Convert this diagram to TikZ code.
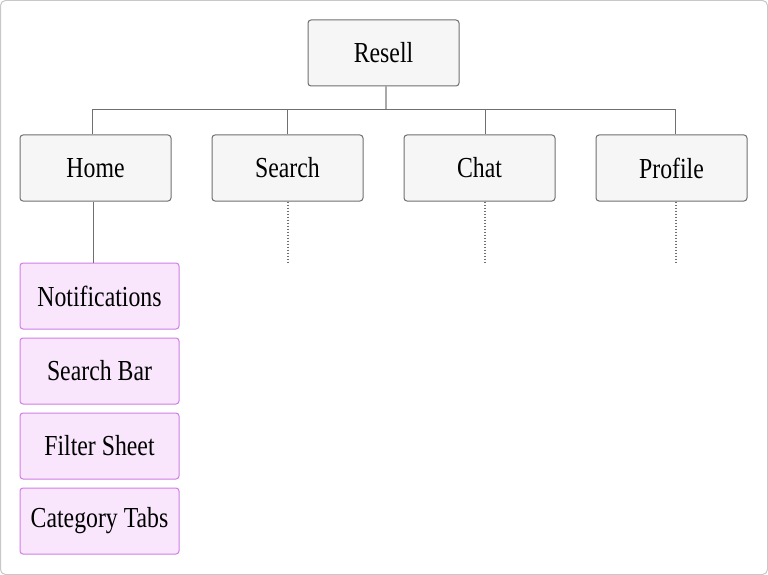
\documentclass[tikz,border=0pt]{standalone}
\usepackage{fontspec}
\setmainfont[FakeStretch=0.82]{Liberation Serif}
\usetikzlibrary{positioning}
\definecolor{boxfill}{HTML}{F6F6F6}
\definecolor{boxline}{HTML}{707070}
\definecolor{subfill}{HTML}{F9E6FD}
\definecolor{subline}{HTML}{D07EE6}
\definecolor{frameline}{HTML}{C8C8C8}
\tikzset{
    page/.style={
           rectangle,
           rounded corners=5pt,
           draw=frameline, fill=white, line width=1pt,
           },
    box/.style={
           rectangle,
           rounded corners=3pt,
           draw=boxline, fill=boxfill, line width=1pt,
           minimum width=151pt,
           minimum height=66pt,
           inner sep=2pt,
           font=\fontsize{29}{32}\selectfont,
           text centered,
           },
    subbox/.style={
           box,
           draw=subline, fill=subfill,
           minimum width=159pt,
           },
    link/.style={draw=boxline, line width=0.9pt},
    stub/.style={draw=boxline, line width=1.3pt, dash pattern=on 1.5pt off 1.5pt},
}

\begin{document}
\begin{tikzpicture}[x=1pt, y=-1pt, node distance=40pt]
  \draw[page] (0.5,0.5) rectangle (767.5,574.5);
  \useasboundingbox (0,0) rectangle (768,575);
  \node[box]                           (resell)  at (383.5,53) {Resell};
  \node[box]                           (home)    at (95.5,168) {Home};
  \node[box, right=of home]            (search)  {Search};
  \node[box, right=of search]          (chat)    {Chat};
  \node[box, right=of chat]            (profile) {Profile};
  \node[subbox, below=61pt of home, xshift=4pt] (notif)  {Notifications};
  \node[subbox, below=8pt of notif]    (bar)     {Search Bar};
  \node[subbox, below=8pt of bar]      (filter)  {Filter Sheet};
  \node[subbox, below=8pt of filter]   (tabs)    {Category Tabs};
  % tree
  \draw[link, draw=boxline!60, line width=1.3pt] ([xshift=2.5pt]resell.south) -- ++(0,23) coordinate (bus);
  \draw[link] ([xshift=-3.5pt]home.north) |- (bus) -| ([xshift=3.5pt]profile.north);
  \draw[link] (search.north) -- (search.north |- bus);
  \draw[link] ([xshift=5.5pt]chat.north) -- ([xshift=5.5pt]chat.north |- bus);
  \draw[link] ([xshift=-2.5pt]home.south) -- ([xshift=-2.5pt]home.south |- notif.north);
  % not expanded
  \draw[stub] ([xshift=0.5pt]search.south) -- ++(0,61);
  \draw[stub] ([xshift=5.5pt]chat.south) -- ++(0,61);
  \draw[stub] ([xshift=4.5pt]profile.south) -- ++(0,61);
\end{tikzpicture}
\end{document}
